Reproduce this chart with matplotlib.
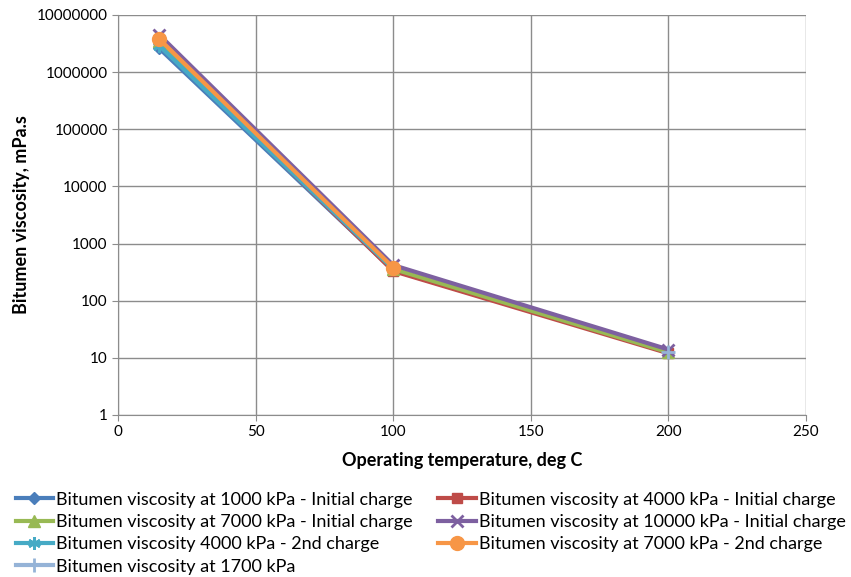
import numpy as np
import matplotlib
matplotlib.use("Agg")
import matplotlib.pyplot as plt
from matplotlib.ticker import FixedLocator, FixedFormatter, NullLocator

plt.rcParams['font.family'] = ['Lato', 'DejaVu Sans']

temps = [15, 100, 200]
series_names = [
    "Bitumen viscosity at 1000 kPa - Initial charge",
    "Bitumen viscosity at 4000 kPa - Initial charge",
    "Bitumen viscosity at 7000 kPa - Initial charge",
    "Bitumen viscosity at 10000 kPa - Initial charge",
    "Bitumen viscosity 4000 kPa - 2nd charge",
    "Bitumen viscosity at 7000 kPa - 2nd charge",
    "Bitumen viscosity at 1700 kPa",
]
v_1000_init = [2.6e6, 340, 12.5]
v_4000_init = [3.2e6, 330, 12.0]
v_7000_init = [3.5e6, 360, 12.5]
v_10000_init = [4.5e6, 420, 14.0]
v_4000_2nd = [2.9e6, 360, np.nan]
v_7000_2nd = [3.8e6, 380, np.nan]
v_1700 = [np.nan, np.nan, 12.5]
values = [v_1000_init, v_4000_init, v_7000_init, v_10000_init, v_4000_2nd, v_7000_2nd, v_1700]

colors = ["#4A7EBB", "#BE4B48", "#98B954", "#7D60A0", "#46AAC5", "#F79646", "#95B3D7"]
markers = ["D", "s", "^", "x", (6, 2, 0), "o", "+"]
msizes = [6, 7, 8, 8, 9, 10, 10]

y_ticks = [1, 10, 100, 1000, 10000, 100000, 1000000, 10000000]
y_labels = ["1", "10", "100", "1000", "10000", "100000", "1000000", "10000000"]
x_ticks = [0, 50, 100, 150, 200, 250]

fig = plt.figure(figsize=(8.51, 5.77), dpi=100)
ax = fig.add_axes([118/851, 1-415/577, (806-118)/851, (415-15)/577])

for name, vals, c, m, ms in zip(series_names, values, colors, markers, msizes):
    mew = 2 if m in ("x", "+", (6, 2, 0)) else 1
    ax.plot(temps, vals, color=c, lw=3, marker=m, ms=ms, mec=c, mfc=c, mew=mew,
            label=name, solid_joinstyle='round')

ax.set_yscale('log')
ax.set_ylim(1, 1e7)
ax.set_xlim(0, 250)
ax.yaxis.set_major_locator(FixedLocator(y_ticks))
ax.yaxis.set_major_formatter(FixedFormatter(y_labels))
ax.yaxis.set_minor_locator(NullLocator())
ax.set_xticks(x_ticks)
ax.grid(True, color="#8C8C8C", lw=1)
ax.set_axisbelow(True)
for s in ["top", "right"]:
    ax.spines[s].set_visible(False)
for s in ["left", "bottom"]:
    ax.spines[s].set_color("#8C8C8C")
ax.tick_params(axis='both', colors="#8C8C8C", labelcolor="black", labelsize=11, length=4, direction='out')

ax.set_ylabel("Bitumen viscosity, mPa.s", fontsize=13, fontweight='bold', labelpad=5)
ax.set_xlabel("Operating temperature, deg C", fontsize=13, fontweight='bold', labelpad=9)

handles, labels = ax.get_legend_handles_labels()
order = [0, 2, 4, 6, 1, 3, 5]
leg = fig.legend([handles[i] for i in order], [labels[i] for i in order],
                 loc='upper left', bbox_to_anchor=(0.014, 1-488/577), ncol=2,
                 frameon=False, fontsize=13, handlelength=2.1, handletextpad=0.15,
                 columnspacing=1.4, labelspacing=0.35, borderaxespad=0, borderpad=0.2)

fig.savefig("out.png", dpi=100)
